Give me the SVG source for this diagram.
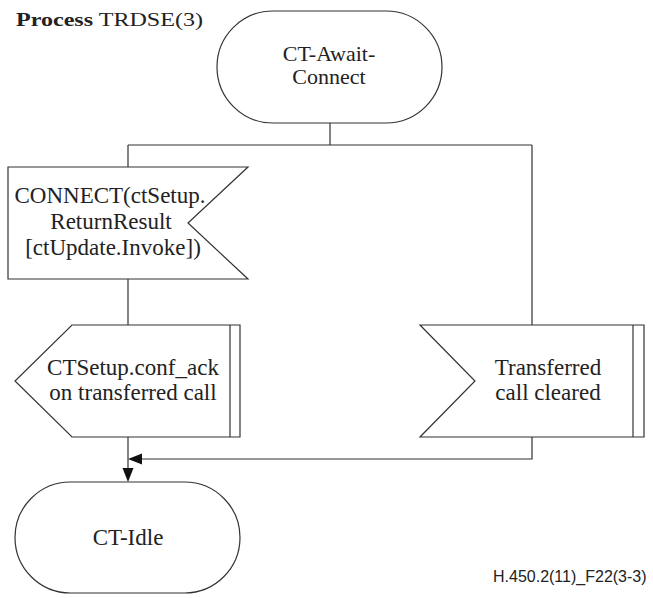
<svg xmlns="http://www.w3.org/2000/svg" width="653" height="598" viewBox="0 0 653 598">
  <defs>
    <style>
      .shape { fill: #fff; stroke: #333; stroke-width: 1.2; }
      .line { fill: none; stroke: #333; stroke-width: 1.2; }
      .head { fill: #111; stroke: none; }
      .lbl { font-family: "Liberation Serif", "Times New Roman", serif; font-size: 23px; fill: #222; text-anchor: middle; }
      .sm { font-size: 22px; }
      .title { font-family: "Liberation Serif", "Times New Roman", serif; font-size: 18px; fill: #222; }
      .ref { font-family: "Liberation Sans", Arial, sans-serif; font-size: 16px; fill: #222; }
    </style>
  </defs>
  <rect width="653" height="598" fill="#fff"/>

  <text class="title" x="16" y="26" textLength="187" lengthAdjust="spacingAndGlyphs"><tspan font-weight="bold">Process</tspan> TRDSE(3)</text>

  <g id="connectors">
    <path class="line" d="M330,123 V145 M128,145 H532 M128,145 V167 M128,279 V325 M128,437 V470 M532,145 V325 M532,437 V459 H142"/>
    <polygon class="head" points="128,459 142,453.5 142,464.5"/>
    <polygon class="head" points="128,482 122.5,468 133.5,468"/>
  </g>

  <g id="state-await-connect">
    <rect class="shape" x="217" y="11" width="225" height="112" rx="56" ry="56"/>
    <text class="lbl sm" x="329" y="61">CT-Await-</text>
    <text class="lbl sm" x="329" y="84">Connect</text>
  </g>

  <g id="input-connect">
    <polygon class="shape" points="8,167 248,167 188,223 248,279 8,279"/>
    <text class="lbl" x="110" y="203">CONNECT(ctSetup.</text>
    <text class="lbl" x="111" y="229">ReturnResult</text>
    <text class="lbl" x="113" y="255">[ctUpdate.Invoke])</text>
  </g>

  <g id="output-conf-ack">
    <polygon class="shape" points="72,325 240,325 240,437 72,437 15,381"/>
    <line class="line" x1="230" y1="325" x2="230" y2="437"/>
    <text class="lbl" x="133" y="375">CTSetup.conf_ack</text>
    <text class="lbl" x="133" y="400">on transferred call</text>
  </g>

  <g id="input-call-cleared">
    <polygon class="shape" points="420,325 644,325 644,437 420,437 475,381"/>
    <line class="line" x1="633" y1="325" x2="633" y2="437"/>
    <text class="lbl" x="548" y="375">Transferred</text>
    <text class="lbl" x="548" y="400">call cleared</text>
  </g>

  <g id="state-idle">
    <rect class="shape" x="15" y="482" width="225" height="111" rx="55.5" ry="55.5"/>
    <text class="lbl" x="128" y="545">CT-Idle</text>
  </g>

  <text class="ref" x="493" y="582">H.450.2(11)_F22(3-3)</text>
</svg>
